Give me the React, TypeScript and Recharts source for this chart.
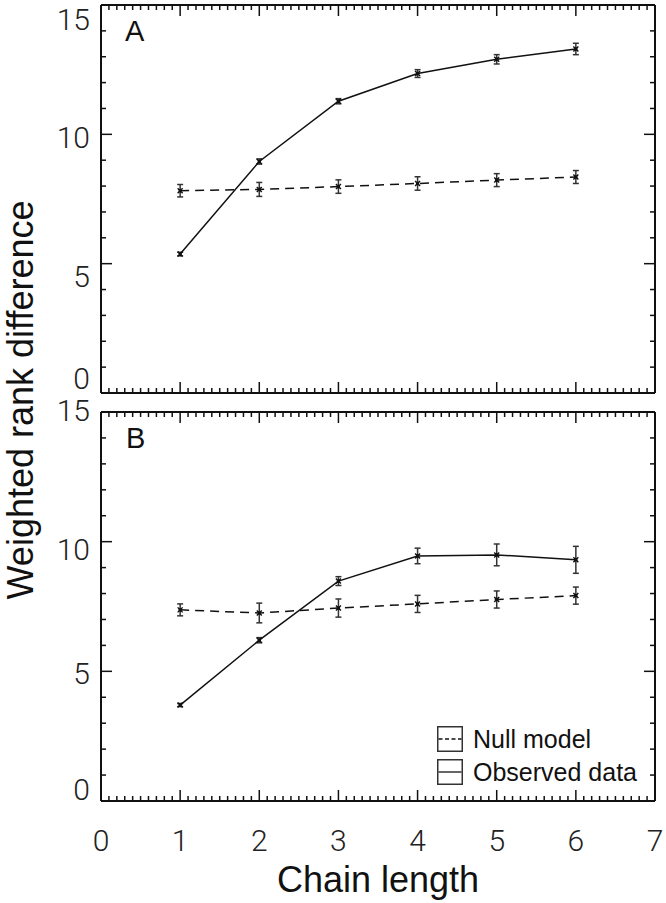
import React from 'react';
import { LineChart, Line, XAxis, YAxis, ErrorBar, Legend } from 'recharts';

// ---------- data ----------
const chainLength = [1, 2, 3, 4, 5, 6];

const observedA = [5.37, 8.95, 11.28, 12.35, 12.9, 13.3];
const observedAErr = [0.07, 0.1, 0.1, 0.15, 0.18, 0.22];
const nullA = [7.82, 7.87, 7.98, 8.1, 8.23, 8.35];
const nullAErr = [0.24, 0.27, 0.26, 0.26, 0.25, 0.25];

const observedB = [3.7, 6.2, 8.48, 9.45, 9.49, 9.3];
const observedBErr = [0.06, 0.1, 0.17, 0.3, 0.42, 0.52];
const nullB = [7.37, 7.25, 7.44, 7.6, 7.77, 7.92];
const nullBErr = [0.23, 0.38, 0.35, 0.33, 0.33, 0.33];

const seriesNames = ['Null model', 'Observed data'];
const panelLetters = ['A', 'B'];

const xMajorTicks = [0, 1, 2, 3, 4, 5, 6, 7];
const xTickLabels = ['0', '1', '2', '3', '4', '5', '6', '7'];
const yMajorTicks = [0, 5, 10, 15];
const yTickLabels = ['0', '5', '10', '15'];
const xAllTicks = Array.from({ length: 71 }, (_, i) => i / 10);
const yAllTicks = Array.from({ length: 16 }, (_, i) => i);

const xTitle = 'Chain length';
const yTitle = 'Weighted rank difference';

// ---------- helpers ----------
const buildRows = (obs: number[], obsErr: number[], nul: number[], nulErr: number[]) =>
  chainLength.map((x, i) => ({ x, obs: obs[i], obsErr: obsErr[i], nul: nul[i], nulErr: nulErr[i] }));

const rowsA = buildRows(observedA, observedAErr, nullA, nullAErr);
const rowsB = buildRows(observedB, observedBErr, nullB, nullBErr);

const TICK_FONT = 'Roboto, "Liberation Sans", Arial, sans-serif';
const TITLE_FONT = '"Liberation Sans", Arial, Helvetica, sans-serif';
const INK = '#111';

const onStep = (v: number, step: number) => Math.abs(v / step - Math.round(v / step)) < 1e-6;

function AxisTick(props: any) {
  const { x, y, payload, side, step, labels, labelDy } = props;
  const v = payload?.value ?? 0;
  const major = onStep(v, step);
  const len = major ? 11 : 5;
  let x2 = x;
  let y2 = y;
  if (side === 'left') x2 = x + len;
  if (side === 'right') x2 = x - len;
  if (side === 'top') y2 = y + len;
  if (side === 'bottom') y2 = y - len;
  let label: React.ReactNode = null;
  if (labels && major) {
    if (side === 'left') {
      const idx = yMajorTicks.indexOf(Math.round(v));
      const dy = labelDy ? labelDy[idx] ?? 0 : 0;
      label = (
        <text x={x - 11} y={y + dy + 11} textAnchor="end" fontFamily={TICK_FONT} fontWeight={300} fontSize={30} fill="#222">
          {yTickLabels[idx]}
        </text>
      );
    } else if (side === 'bottom') {
      const idx = xMajorTicks.indexOf(Math.round(v));
      label = (
        <text x={x} y={y + 50} textAnchor="middle" fontFamily={TICK_FONT} fontWeight={300} fontSize={30} fill="#222">
          {xTickLabels[idx]}
        </text>
      );
    }
  }
  return (
    <g>
      <line x1={x} y1={y} x2={x2} y2={y2} stroke={INK} strokeWidth={1.5} />
      {label}
    </g>
  );
}

function Marker(props: any) {
  const { cx, cy } = props;
  if (cx == null || cy == null) return null;
  return (
    <g>
      <path
        d={`M${cx - 2.5},${cy - 2.5}L${cx + 2.5},${cy + 2.5}M${cx - 2.5},${cy + 2.5}L${cx + 2.5},${cy - 2.5}`}
        stroke={INK}
        strokeWidth={1.4}
      />
      <rect x={cx - 1.6} y={cy - 1.6} width={3.2} height={3.2} fill={INK} />
    </g>
  );
}

function PanelLetter(props: any) {
  const { text, px, py } = props;
  return (
    <text x={px} y={py} fontFamily={TITLE_FONT} fontSize={29} fill={INK}>
      {text}
    </text>
  );
}

function YTitle() {
  return (
    <text
      x={20}
      y={400}
      transform="rotate(-90, 20, 400)"
      textAnchor="middle"
      dominantBaseline="central"
      fontFamily={TITLE_FONT}
      fontSize={36}
      fill={INK}
    >
      {yTitle}
    </text>
  );
}

function XTitle() {
  return (
    <text x={378} y={892} textAnchor="middle" fontFamily={TITLE_FONT} fontSize={36} fill={INK}>
      {xTitle}
    </text>
  );
}

const renderLegend = (props: any) => {
  const payload = props?.payload || [];
  return (
    <div style={{ fontFamily: TITLE_FONT, fontSize: 25, color: INK }}>
      {payload.map((entry: any, i: number) => {
        const dashed = !!entry?.payload?.strokeDasharray;
        return (
          <div key={i} style={{ display: 'flex', alignItems: 'center', height: 26, marginBottom: i === 0 ? 7 : 0 }}>
            <svg width={26} height={26} style={{ display: 'block' }}>
              <rect x={0.75} y={0.75} width={24.5} height={24.5} fill="none" stroke="#333" strokeWidth={1.5} />
              <line x1={1.5} x2={24.5} y1={13} y2={13} stroke={INK} strokeWidth={1.3} strokeDasharray={dashed ? '4 2.5' : undefined} />
            </svg>
            <span style={{ marginLeft: 10, lineHeight: '26px', whiteSpace: 'nowrap' }}>{entry.value}</span>
          </div>
        );
      })}
    </div>
  );
};

const axisLineStyle = { stroke: INK, strokeWidth: 2 };

type PanelProps = {
  rows: any[];
  letter: string;
  letterPos: [number, number];
  margin: { top: number; right: number; bottom: number; left: number };
  bottomHeight: number;
  showXLabels: boolean;
  showLegend: boolean;
  showYTitle: boolean;
  labelDy: number[];
};

function Panel(p: PanelProps) {
  return (
    <div style={{ position: 'absolute', left: 0, top: 0 }}>
      <LineChart width={666} height={903} data={p.rows} margin={p.margin}>
        <XAxis
          xAxisId="bottom"
          dataKey="x"
          type="number"
          domain={[0, 7]}
          ticks={xAllTicks}
          interval={0}
          orientation="bottom"
          height={p.bottomHeight}
          tickSize={0}
          tickMargin={0}
          tickLine={false}
          axisLine={axisLineStyle}
          tick={<AxisTick side="bottom" step={1} labels={p.showXLabels} />}
          label={p.showXLabels ? <XTitle /> : undefined}
          allowDataOverflow
        />
        <XAxis
          xAxisId="top"
          dataKey="x"
          type="number"
          domain={[0, 7]}
          ticks={xAllTicks}
          interval={0}
          orientation="top"
          height={1}
          tickSize={0}
          tickMargin={0}
          tickLine={false}
          axisLine={axisLineStyle}
          tick={<AxisTick side="top" step={1} labels={false} />}
          label={<PanelLetter text={p.letter} px={p.letterPos[0]} py={p.letterPos[1]} />}
          allowDataOverflow
        />
        <YAxis
          yAxisId="left"
          type="number"
          domain={[0, 15]}
          ticks={yAllTicks}
          interval={0}
          orientation="left"
          width={101}
          tickSize={0}
          tickMargin={0}
          tickLine={false}
          axisLine={axisLineStyle}
          tick={<AxisTick side="left" step={5} labels labelDy={p.labelDy} />}
          label={p.showYTitle ? <YTitle /> : undefined}
          allowDataOverflow
        />
        <YAxis
          yAxisId="right"
          type="number"
          domain={[0, 15]}
          ticks={yAllTicks}
          interval={0}
          orientation="right"
          width={1}
          tickSize={0}
          tickMargin={0}
          tickLine={false}
          axisLine={axisLineStyle}
          tick={<AxisTick side="right" step={5} labels={false} />}
          allowDataOverflow
        />
        <Line
          xAxisId="bottom"
          yAxisId="left"
          type="linear"
          dataKey="nul"
          name={seriesNames[0]}
          stroke={INK}
          strokeWidth={1.5}
          strokeDasharray="9 6"
          dot={(d: any) => <Marker key={`n${d.index}`} {...d} />}
          activeDot={false}
          isAnimationActive={false}
        >
          <ErrorBar dataKey="nulErr" width={3} stroke="#333" strokeWidth={1.5} direction="y" isAnimationActive={false} />
        </Line>
        <Line
          xAxisId="bottom"
          yAxisId="left"
          type="linear"
          dataKey="obs"
          name={seriesNames[1]}
          stroke={INK}
          strokeWidth={1.5}
          dot={(d: any) => <Marker key={`o${d.index}`} {...d} />}
          activeDot={false}
          isAnimationActive={false}
        >
          <ErrorBar dataKey="obsErr" width={3} stroke="#333" strokeWidth={1.5} direction="y" isAnimationActive={false} />
        </Line>
        {p.showLegend ? (
          <Legend
            layout="vertical"
            align="center"
            verticalAlign="middle"
            content={renderLegend}
            wrapperStyle={{ left: 437, top: 726, width: 220, height: 60 }}
          />
        ) : null}
      </LineChart>
    </div>
  );
}

export default function App() {
  return (
    <div style={{ position: 'absolute', left: 0, top: 0, width: 666, height: 903, background: '#fff' }}>
      <Panel
        rows={rowsA}
        letter={panelLetters[0]}
        letterPos={[125, 41]}
        margin={{ top: 4, right: 10, bottom: 503, left: 0 }}
        bottomHeight={7}
        showXLabels={false}
        showLegend={false}
        showYTitle={true}
        labelDy={[-15, 12.5, 3, 14]}
      />
      <Panel
        rows={rowsB}
        letter={panelLetters[1]}
        letterPos={[126, 448]}
        margin={{ top: 411, right: 10, bottom: 0, left: 0 }}
        bottomHeight={102}
        showXLabels={true}
        showLegend={true}
        showYTitle={false}
        labelDy={[-12, 2, 7, -2]}
      />
    </div>
  );
}
